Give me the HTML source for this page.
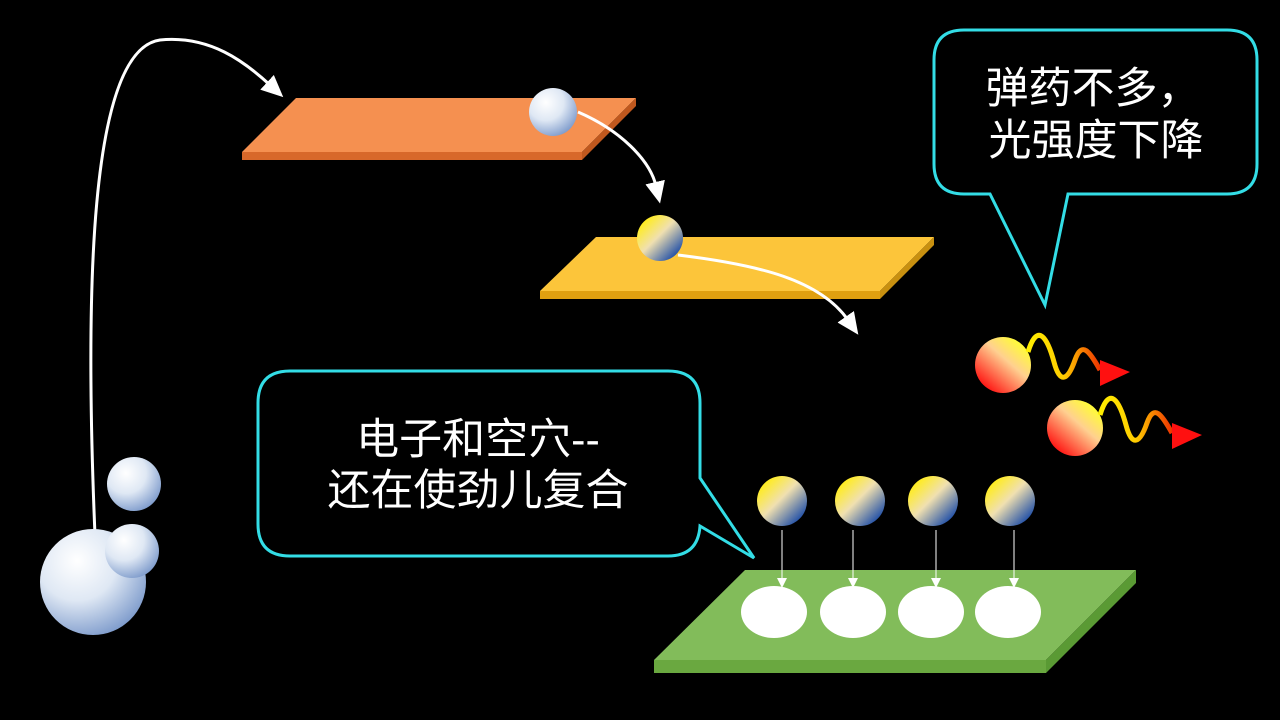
<!DOCTYPE html>
<html><head><meta charset="utf-8"><style>html,body{margin:0;padding:0;background:#000;}svg{display:block}</style></head>
<body>
<svg width="1280" height="720" viewBox="0 0 1280 720" xmlns="http://www.w3.org/2000/svg">
<defs>
<radialGradient id="wb" cx="0.35" cy="0.3" r="0.75"><stop offset="0" stop-color="#fff"/><stop offset="0.5" stop-color="#dfe8f4"/><stop offset="1" stop-color="#7f9ccc"/></radialGradient>
<linearGradient id="yb" x1="0.15" y1="0.15" x2="0.85" y2="0.85"><stop offset="0" stop-color="#ffec20"/><stop offset="0.45" stop-color="#f0e0b0"/><stop offset="1" stop-color="#2a56a8"/></linearGradient>
<linearGradient id="ry" x1="0.85" y1="0.1" x2="0.15" y2="0.9"><stop offset="0" stop-color="#ffff30"/><stop offset="0.4" stop-color="#ffd090"/><stop offset="1" stop-color="#ff1010"/></linearGradient>
<linearGradient id="wv" x1="0" y1="0" x2="1" y2="0"><stop offset="0" stop-color="#ffee00"/><stop offset="0.5" stop-color="#ffcc00"/><stop offset="1" stop-color="#ee3300"/></linearGradient>
<marker id="ah" markerWidth="10" markerHeight="10" refX="6" refY="5" orient="auto" markerUnits="userSpaceOnUse"><path d="M0,0 L10,5 L0,10 z" fill="#fff"/></marker>
<marker id="ah2" markerWidth="24" markerHeight="20" refX="4" refY="10" orient="auto" markerUnits="userSpaceOnUse"><path d="M0,0 L22,10 L0,20 z" fill="#fff"/></marker>
</defs>
<polygon points="296,98 636,98 582,152 242,152" fill="#f59050"/>
<polygon points="242,152 582,152 582,160 242,160" fill="#d8682a"/>
<polygon points="582,152 636,98 636,106 582,160" fill="#c0581e"/>
<polygon points="596,237 934,237 880,291 540,291" fill="#fcc53a"/>
<polygon points="540,291 880,291 880,299 540,299" fill="#e0a010"/>
<polygon points="880,291 934,237 934,245 880,299" fill="#c89010"/>
<polygon points="745,570 1136,570 1046,660 654,660" fill="#82bc5a"/>
<polygon points="654,660 1046,660 1046,673 654,673" fill="#6aa840"/>
<polygon points="1046,660 1136,570 1136,583 1046,673" fill="#5a9a34"/>
<g fill="#fff"><ellipse cx="774" cy="612" rx="33" ry="26"/><ellipse cx="853" cy="612" rx="33" ry="26"/><ellipse cx="931" cy="612" rx="33" ry="26"/><ellipse cx="1008" cy="612" rx="33" ry="26"/></g>
<g fill="none" stroke="#fff" stroke-width="3">
<path d="M95,535 C85,300 88,50 160,40 C210,35 245,62 270,85" marker-end="url(#ah2)"/>
<path d="M578,112 C620,130 650,160 656,186" marker-end="url(#ah2)"/>
<path d="M678,255 C760,265 820,280 848,320" marker-end="url(#ah2)"/>
</g>
<g stroke="#fff" stroke-width="1" fill="none">
<path d="M782,530 V584" marker-end="url(#ah)"/><path d="M853,530 V584" marker-end="url(#ah)"/><path d="M936,530 V584" marker-end="url(#ah)"/><path d="M1014,530 V584" marker-end="url(#ah)"/>
</g>
<circle cx="553" cy="112" r="24" fill="url(#wb)"/>
<circle cx="134" cy="484" r="27" fill="url(#wb)"/>
<circle cx="93" cy="582" r="53" fill="url(#wb)"/>
<circle cx="132" cy="551" r="27" fill="url(#wb)"/>
<circle cx="660" cy="238" r="23" fill="url(#yb)"/>
<circle cx="782" cy="501" r="25" fill="url(#yb)"/>
<circle cx="860" cy="501" r="25" fill="url(#yb)"/>
<circle cx="933" cy="501" r="25" fill="url(#yb)"/>
<circle cx="1010" cy="501" r="25" fill="url(#yb)"/>
<g>
<circle cx="1003" cy="365" r="28" fill="url(#ry)"/>
<path d="M1028,352 C1038,320 1048,340 1054,362 C1060,385 1068,380 1075,360 C1082,340 1090,352 1100,370" fill="none" stroke="url(#wv)" stroke-width="5"/>
<polygon points="1100,360 1130,372 1100,386" fill="#ff1010"/>
</g>
<g transform="translate(72,63)">
<circle cx="1003" cy="365" r="28" fill="url(#ry)"/>
<path d="M1028,352 C1038,320 1048,340 1054,362 C1060,385 1068,380 1075,360 C1082,340 1090,352 1100,370" fill="none" stroke="url(#wv)" stroke-width="5"/>
<polygon points="1100,360 1130,372 1100,386" fill="#ff1010"/>
</g>
<path d="M964,30 H1227 Q1257,30 1257,60 V164 Q1257,194 1227,194 H1068 L1045,305 L990,194 H964 Q934,194 934,164 V60 Q934,30 964,30 Z" fill="#000" stroke="#33dde6" stroke-width="3"/>
<g fill="#fff" font-family="'Liberation Sans','Noto Sans CJK SC',sans-serif" font-size="43" text-anchor="middle">
<text x="1093" y="103">弹药不多，</text>
<text x="1096" y="155">光强度下降</text>
</g>
<path d="M290,371 H668 Q700,371 700,403 V478 L754,558 L700,526 Q698,556 668,556 H290 Q258,556 258,524 V403 Q258,371 290,371 Z" fill="#000" stroke="#33dde6" stroke-width="3"/>
<g fill="#fff" font-family="'Liberation Sans','Noto Sans CJK SC',sans-serif" font-size="43" text-anchor="middle">
<text x="478" y="454">电子和空穴--</text>
<text x="478" y="505">还在使劲儿复合</text>
</g>
</svg>
</body></html>
